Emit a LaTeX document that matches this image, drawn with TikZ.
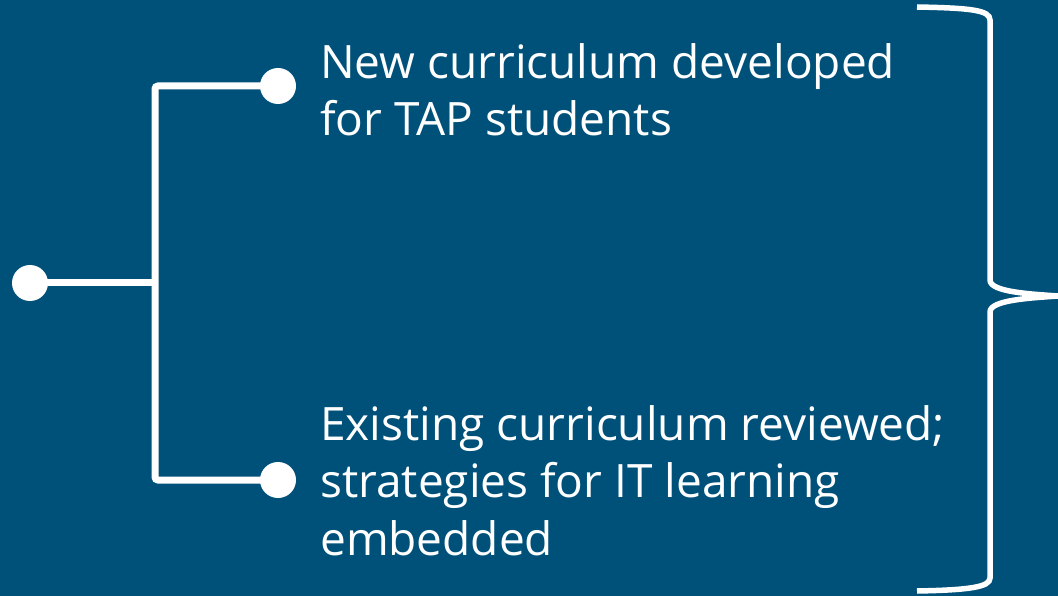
\documentclass[tikz,border=0pt]{standalone}
\usepackage{fontspec}
\setmainfont{Open Sans}
\definecolor{bg}{RGB}{0,81,122}
\begin{document}
\begin{tikzpicture}[x=1pt,y=-1pt,
  wire/.style={white,line width=7pt},
  dot/.style={circle,fill=white,minimum size=36pt,inner sep=0pt},
  lbl/.style={text=white,anchor=north west,inner sep=0pt,align=left,font=\fontsize{46}{57.5}\selectfont}]
\fill[bg] (0,0) rectangle (1058,596);
\useasboundingbox (0,0) rectangle (1058,596);
\node[dot] (root) at (30,283) {};
\node[dot] (top) at (278,86) {};
\node[dot] (bot) at (278,480) {};
\coordinate (j) at (155,283);
\draw[wire] (root.center) -- (j);
\draw[wire,rounded corners=3pt] (top.center) -| (155,283) |- (bot.center);
\node[lbl] (t1) at (320,43) {New curriculum developed\\for TAP students};
\node[lbl] (t2) at (320,405) {Existing curriculum reviewed;\\strategies for IT learning\\embedded};
\draw[white,line width=5.5pt,line cap=butt] (917,7) .. controls (970,8) and (990,10) .. (990,20)
  -- (990,280) .. controls (990,292) and (1030,294) .. (1058,296)
  .. controls (1030,298) and (990,300) .. (990,312)
  -- (990,578) .. controls (990,587) and (970,590) .. (917,591);
\end{tikzpicture}
\end{document}
